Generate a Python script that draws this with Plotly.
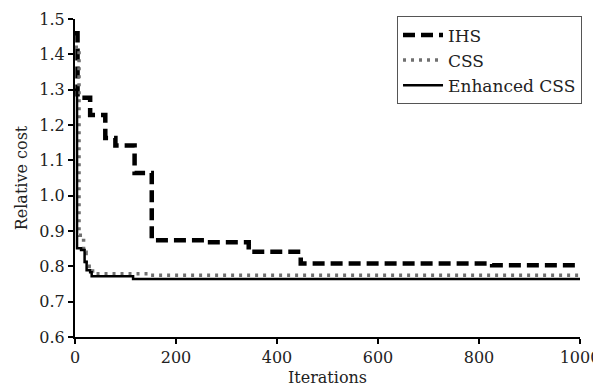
import plotly.graph_objects as go

# Data (step curves)
ihs_x = [0, 5, 30, 60, 80, 118, 152, 262, 344, 447, 826, 1000]
ihs_y = [1.46, 1.277, 1.228, 1.163, 1.142, 1.064, 0.874, 0.868, 0.841, 0.808, 0.803, 0.803]

css_x = [0, 8, 17, 22, 28, 40, 150, 1000]
css_y = [1.42, 0.888, 0.84, 0.80, 0.787, 0.779, 0.775, 0.775]

ecss_x = [0, 4, 12, 19, 23, 30, 33, 115, 1000]
ecss_y = [1.30, 0.851, 0.846, 0.812, 0.789, 0.783, 0.772, 0.764, 0.764]

x_ticks = [0, 200, 400, 600, 800, 1000]
y_ticks = [0.6, 0.7, 0.8, 0.9, 1.0, 1.1, 1.2, 1.3, 1.4, 1.5]

FONT = "DejaVu Serif"

fig = go.Figure()
fig.add_trace(go.Scatter(x=ihs_x, y=ihs_y, mode="lines", name="IHS",
                         line=dict(color="black", width=4.5, dash="12px,6px", shape="hv")))
fig.add_trace(go.Scatter(x=css_x, y=css_y, mode="lines", name="CSS",
                         line=dict(color="#707070", width=3.5, dash="3px,5px", shape="hv")))
fig.add_trace(go.Scatter(x=ecss_x, y=ecss_y, mode="lines", name="Enhanced CSS",
                         line=dict(color="black", width=2.5, shape="hv")))

# the page body adds an 8px offset, so the figure is sized to fit the window
fig.update_layout(
    width=593, height=381,
    margin=dict(l=67, r=21, t=11, b=52, autoexpand=False),
    paper_bgcolor="white", plot_bgcolor="white",
    font=dict(family=FONT, size=16, color="#222"),
    showlegend=True,
    legend=dict(x=1.004, y=1.008, xanchor="right", yanchor="top",
                bordercolor="#555", borderwidth=1, bgcolor="white",
                font=dict(family=FONT, size=17, color="#222"),
                tracegroupgap=0, itemwidth=40),
    xaxis=dict(range=[0, 1000], tickvals=x_ticks, showgrid=False, zeroline=False,
               showline=True, linecolor="black", linewidth=2, automargin=False,
               ticks="outside", ticklen=5, tickwidth=2, tickcolor="black",
               title=dict(text="Iterations", standoff=6, font=dict(family=FONT, size=16))),
    yaxis=dict(range=[0.6, 1.5], tickvals=y_ticks, tickformat=".1f", showgrid=False,
               zeroline=False, showline=True, linecolor="black", linewidth=2, automargin=False,
               ticks="outside", ticklen=5, tickwidth=2, tickcolor="black",
               title=dict(text="Relative cost", standoff=8, font=dict(family=FONT, size=16))),
)

fig.write_html("out.html")
